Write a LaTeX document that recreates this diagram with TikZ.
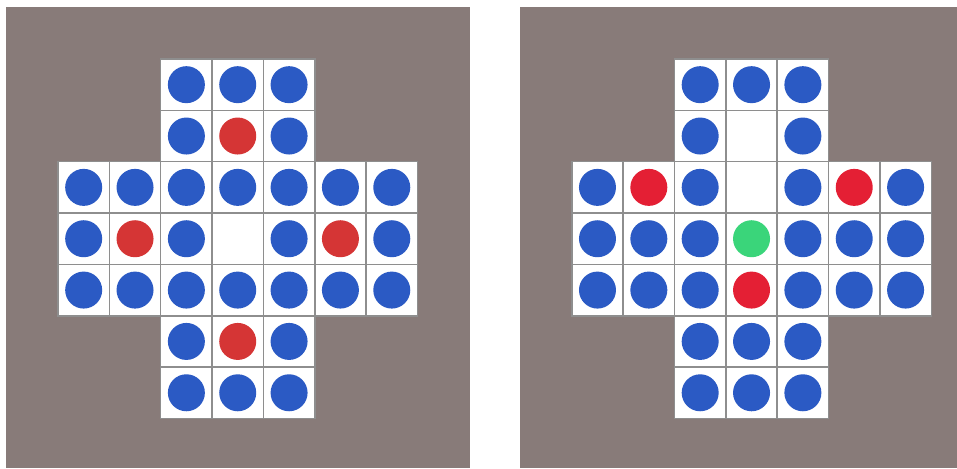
\documentclass[tikz,border=0pt]{standalone}
\usetikzlibrary{calc}
\definecolor{panel}{HTML}{887B79}
\definecolor{grid}{HTML}{8E8E8E}
\definecolor{peg}{HTML}{2B5AC4}
\definecolor{redA}{HTML}{D53535}
\definecolor{redB}{HTML}{E41F34}
\definecolor{pegG}{HTML}{3AD57A}
\tikzset{
  cellbox/.style={fill=white,draw=grid,line width=1.5pt},
  pegdot/.style={circle,inner sep=0pt,minimum size=37pt},
}
\newcommand{\pitch}{51.35}
% \boardcell{ox}{oy}{col}{row}{fillcolor}; empty hole = none
\newcommand{\boardcell}[5]{%
  \path[cellbox] ({#1+#3*\pitch},{#2+#4*\pitch}) rectangle ++(\pitch,\pitch);
  \node[pegdot,fill=#5] at ({#1+(#3+0.5)*\pitch},{#2+(#4+0.5)*\pitch}) {};}
\begin{document}
\begin{tikzpicture}[x=1pt,y=-1pt]
\useasboundingbox (0,0) rectangle (957,468);
\fill[white] (0,0) rectangle (957,468);
\fill[panel] (6,7) rectangle (469.5,468);
\fill[panel] (519.5,7) rectangle (957,468);
% left board
\foreach \r/\row in {0/{peg,peg,peg},1/{peg,redA,peg},5/{peg,redA,peg},6/{peg,peg,peg}}{
  \foreach \c [count=\i from 2] in \row {\boardcell{58}{59}{\i}{\r}{\c}}}
\foreach \r/\row in {2/{peg,peg,peg,peg,peg,peg,peg},4/{peg,peg,peg,peg,peg,peg,peg}}{
  \foreach \c [count=\i from 0] in \row {\boardcell{58}{59}{\i}{\r}{\c}}}
\foreach \c [count=\i from 0] in {peg,redA,peg,none,peg,redA,peg} {\boardcell{58}{59}{\i}{3}{\c}}
% right board
\foreach \r/\row in {0/{peg,peg,peg},5/{peg,peg,peg},6/{peg,peg,peg}}{
  \foreach \c [count=\i from 2] in \row {\boardcell{571.8}{59}{\i}{\r}{\c}}}
\foreach \c [count=\i from 2] in {peg,none,peg} {\boardcell{571.8}{59}{\i}{1}{\c}}
\foreach \c [count=\i from 0] in {peg,redB,peg,none,peg,redB,peg} {\boardcell{571.8}{59}{\i}{2}{\c}}
\foreach \c [count=\i from 0] in {peg,peg,peg,pegG,peg,peg,peg} {\boardcell{571.8}{59}{\i}{3}{\c}}
\foreach \c [count=\i from 0] in {peg,peg,peg,redB,peg,peg,peg} {\boardcell{571.8}{59}{\i}{4}{\c}}
\end{tikzpicture}
\end{document}
